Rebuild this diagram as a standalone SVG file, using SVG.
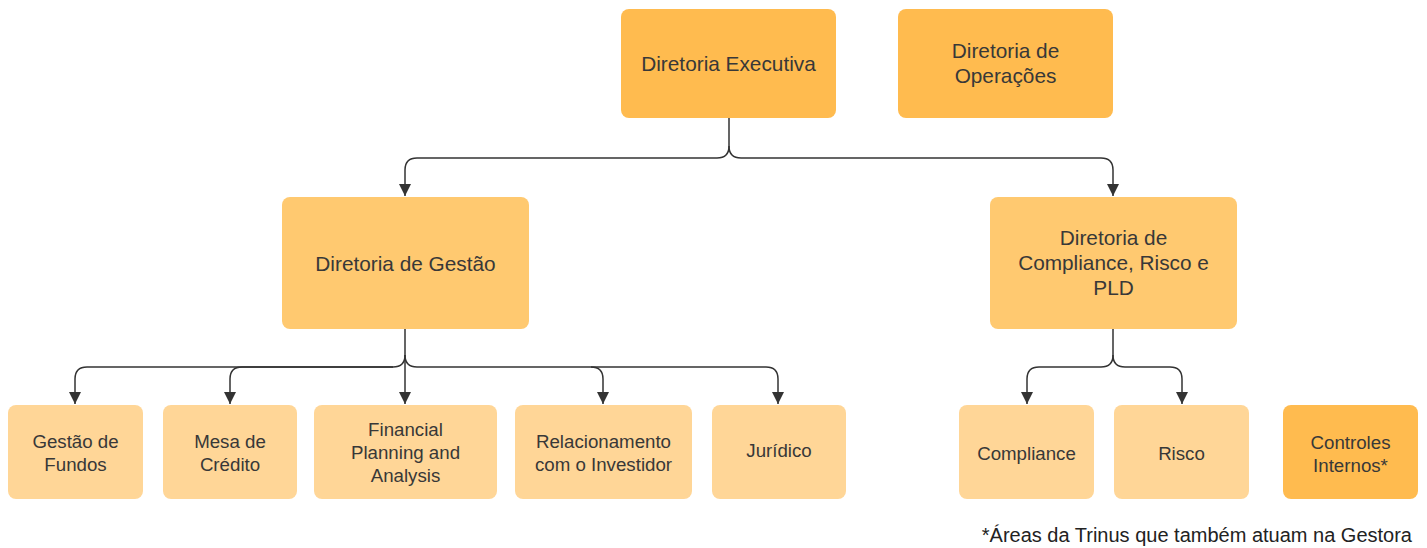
<svg xmlns="http://www.w3.org/2000/svg" width="1427" height="548" viewBox="0 0 1427 548">
<defs>
<style>
.n1{fill:#FFBB4F}
.n2{fill:#FFC970}
.n3{fill:#FFD697}
.t{font-family:"Liberation Sans",Arial,sans-serif;fill:#383838;text-anchor:middle}
.big{font-size:20.8px}
.sm{font-size:18.7px}
.c{fill:none;stroke:#333;stroke-width:1.5}
</style>
<marker id="arr" viewBox="0 0 12 12" refX="12" refY="6" markerWidth="12" markerHeight="12" markerUnits="userSpaceOnUse" orient="auto">
<path d="M0,0 L12,6 L0,12 z" fill="#333"/>
</marker>
</defs>
<rect width="1427" height="548" fill="#fff"/>
<g id="connectors">
<path class="c" d="M729,118 V146 Q729,158 717,158 H417 Q405,158 405,170 V196" marker-end="url(#arr)"/>
<path class="c" d="M729,146 Q729,158 741,158 H1101 Q1113,158 1113,170 V196" marker-end="url(#arr)"/>
<path class="c" d="M405,329 V355 Q405,367 393,367 H87 Q75,367 75,379 V404" marker-end="url(#arr)"/>
<path class="c" d="M393,367 H242 Q230,367 230,379 V404" marker-end="url(#arr)"/>
<path class="c" d="M405,355 V404" marker-end="url(#arr)"/>
<path class="c" d="M405,355 Q405,367 417,367 H591 Q603,367 603,379 V404" marker-end="url(#arr)"/>
<path class="c" d="M591,367 H766 Q778,367 778,379 V404" marker-end="url(#arr)"/>
<path class="c" d="M1113,329 V355 Q1113,367 1101,367 H1039 Q1027,367 1027,379 V404" marker-end="url(#arr)"/>
<path class="c" d="M1113,355 Q1113,367 1125,367 H1170 Q1182,367 1182,379 V404" marker-end="url(#arr)"/>
</g>
<g id="diretoria-executiva">
<rect class="n1" x="621" y="9" width="215" height="109" rx="8"/>
<text class="t big" x="728.5" y="71">Diretoria Executiva</text>
</g>
<g id="diretoria-operacoes">
<rect class="n1" x="898" y="9" width="215" height="109" rx="8"/>
<text class="t big" x="1005.5" y="58">Diretoria de</text>
<text class="t big" x="1005.5" y="83">Operações</text>
</g>
<g id="diretoria-gestao">
<rect class="n2" x="282" y="197" width="247" height="132" rx="8"/>
<text class="t big" x="405.5" y="271">Diretoria de Gestão</text>
</g>
<g id="diretoria-compliance">
<rect class="n2" x="990" y="197" width="247" height="132" rx="8"/>
<text class="t big" x="1113.5" y="245">Diretoria de</text>
<text class="t big" x="1113.5" y="270">Compliance, Risco e</text>
<text class="t big" x="1113.5" y="295">PLD</text>
</g>
<g id="gestao-fundos">
<rect class="n3" x="8" y="405" width="135" height="94" rx="8"/>
<text class="t sm" x="75.5" y="448">Gestão de</text>
<text class="t sm" x="75.5" y="471">Fundos</text>
</g>
<g id="mesa-credito">
<rect class="n3" x="163" y="405" width="134" height="94" rx="8"/>
<text class="t sm" x="230" y="448">Mesa de</text>
<text class="t sm" x="230" y="471">Crédito</text>
</g>
<g id="fpa">
<rect class="n3" x="314" y="405" width="183" height="94" rx="8"/>
<text class="t sm" x="405.5" y="436">Financial</text>
<text class="t sm" x="405.5" y="459">Planning and</text>
<text class="t sm" x="405.5" y="482">Analysis</text>
</g>
<g id="relacionamento">
<rect class="n3" x="515" y="405" width="177" height="94" rx="8"/>
<text class="t sm" x="603.5" y="448">Relacionamento</text>
<text class="t sm" x="603.5" y="471">com o Investidor</text>
</g>
<g id="juridico">
<rect class="n3" x="712" y="405" width="134" height="94" rx="8"/>
<text class="t sm" x="779" y="457">Jurídico</text>
</g>
<g id="compliance">
<rect class="n3" x="959" y="405" width="135" height="94" rx="8"/>
<text class="t sm" x="1026.5" y="460">Compliance</text>
</g>
<g id="risco">
<rect class="n3" x="1114" y="405" width="135" height="94" rx="8"/>
<text class="t sm" x="1181.5" y="460">Risco</text>
</g>
<g id="controles-internos">
<rect class="n1" x="1283" y="405" width="135" height="94" rx="8"/>
<text class="t sm" x="1350.5" y="449">Controles</text>
<text class="t sm" x="1350.5" y="472">Internos*</text>
</g>
<text x="1412" y="542" font-family="'Liberation Sans',Arial,sans-serif" font-size="20" fill="#222" text-anchor="end">*Áreas da Trinus que também atuam na Gestora</text>
</svg>
